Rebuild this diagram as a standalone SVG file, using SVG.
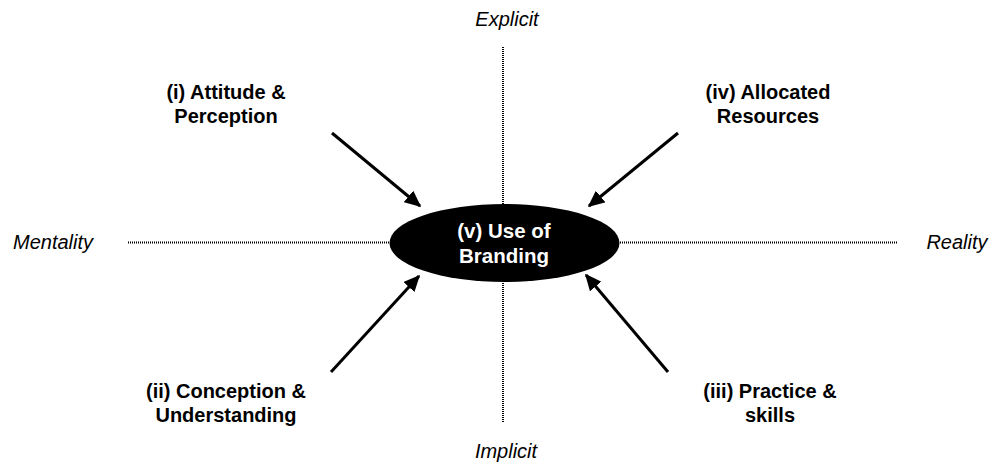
<svg xmlns="http://www.w3.org/2000/svg" width="993" height="464" viewBox="0 0 993 464">
<style>
.axis{stroke:#000;stroke-width:2;stroke-dasharray:1 1;fill:none}
.arrow{stroke:#000;stroke-width:3;fill:none;marker-end:url(#ah)}
.lbl{font-family:"Liberation Sans",Arial,sans-serif;font-size:20px;font-weight:bold;fill:#000;text-anchor:middle}
.ax{font-family:"Liberation Sans",Arial,sans-serif;font-size:20px;font-style:italic;fill:#000;text-anchor:middle}
.ctr{font-family:"Liberation Sans",Arial,sans-serif;font-size:20.5px;font-weight:bold;fill:#fff;text-anchor:middle}
</style>
<defs>
<marker id="ah" markerWidth="5.5" markerHeight="5" refX="5" refY="2.5" orient="auto" markerUnits="strokeWidth">
<path d="M0,0 L5.5,2.5 L0,5 z" fill="#000"/>
</marker>
</defs>
<rect width="993" height="464" fill="#fff"/>
<g id="axes">
<line class="axis" x1="503" y1="47" x2="503" y2="423"/>
<line class="axis" x1="128" y1="242.5" x2="897" y2="242.5"/>
</g>
<g id="connectors">
<line class="arrow" x1="332" y1="133" x2="420" y2="206"/>
<line class="arrow" x1="678" y1="133" x2="589" y2="206"/>
<line class="arrow" x1="331" y1="372" x2="419" y2="276"/>
<line class="arrow" x1="668" y1="372" x2="586" y2="275"/>
</g>
<g id="center">
<ellipse cx="504.5" cy="243" rx="115" ry="39" fill="#000"/>
<text class="ctr" x="504" y="238">(v) Use of</text>
<text class="ctr" x="504" y="263">Branding</text>
</g>
<g id="n1"><text class="lbl" x="226" y="99">(i) Attitude &amp;</text><text class="lbl" x="226" y="123">Perception</text></g>
<g id="n4"><text class="lbl" x="768" y="99">(iv) Allocated</text><text class="lbl" x="768" y="123">Resources</text></g>
<g id="n2"><text class="lbl" x="226" y="398">(ii) Conception &amp;</text><text class="lbl" x="226" y="422">Understanding</text></g>
<g id="n3"><text class="lbl" x="770" y="398">(iii) Practice &amp;</text><text class="lbl" x="770" y="422">skills</text></g>
<g id="axislabels">
<text class="ax" x="507" y="26">Explicit</text>
<text class="ax" x="506" y="458">Implicit</text>
<text class="ax" x="53" y="249">Mentality</text>
<text class="ax" x="957" y="249">Reality</text>
</g>
</svg>
